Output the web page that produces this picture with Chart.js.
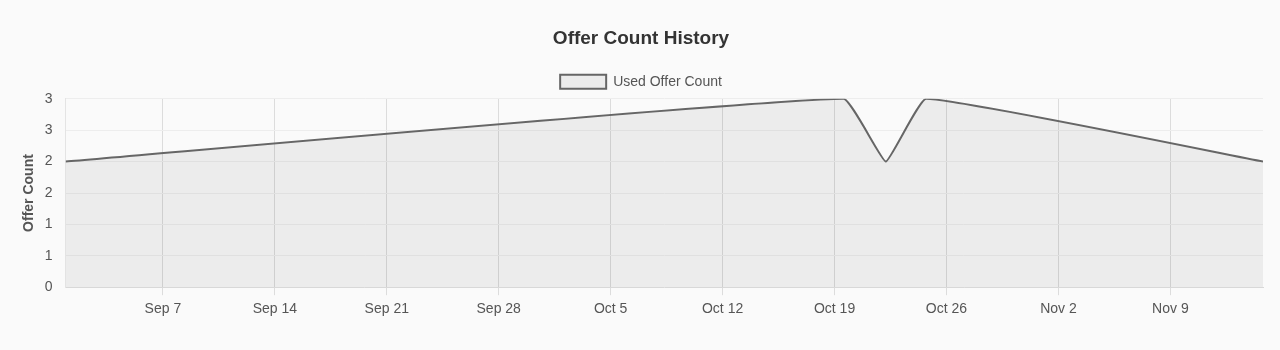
<!DOCTYPE html>
<html>
<head>
<meta charset="utf-8">
<script src="https://cdn.jsdelivr.net/npm/chart.js@4"></script>
<style>
  html, body { margin: 0; padding: 0; background: #fafafa; }
  #wrap { width: 1280px; height: 350px; position: relative; }
</style>
</head>
<body>
<div id="wrap"><canvas id="chart"></canvas></div>
<script>
// data (dates are when the count changed)
const pointDates = ['2020-08-31T22:00:00Z', '2020-10-19T13:30:00Z', '2020-10-22T05:00:00Z', '2020-10-24T17:30:00Z', '2020-11-14T19:00:00Z'];
const usedOfferCount = [2, 3, 2, 3, 2];
const tickDates = ['2020-09-07', '2020-09-14', '2020-09-21', '2020-09-28', '2020-10-05', '2020-10-12', '2020-10-19', '2020-10-26', '2020-11-02', '2020-11-09'];
const monthNames = ['Jan', 'Feb', 'Mar', 'Apr', 'May', 'Jun', 'Jul', 'Aug', 'Sep', 'Oct', 'Nov', 'Dec'];

const DAY = 86400000;
const toDay = s => Date.parse(s.length === 10 ? s + 'T00:00:00Z' : s) / DAY;

const points = pointDates.map((d, i) => ({ x: toDay(d), y: usedOfferCount[i] }));
const tickDays = tickDates.map(toDay);

const fmtDay = v => {
    const d = new Date(Math.round(v * DAY));
    return monthNames[d.getUTCMonth()] + ' ' + d.getUTCDate();
};

Chart.defaults.font.family = '"Liberation Sans", Arial, sans-serif';
Chart.defaults.color = '#555';

new Chart(document.getElementById('chart'), {
    type: 'line',
    data: {
        datasets: [{
            label: 'Used Offer Count',
            data: points,
            borderColor: '#666',
            backgroundColor: 'rgba(0,0,0,0.055)',
            borderWidth: 2,
            fill: true,
            tension: 0.1,
            pointRadius: 0,
            pointHoverRadius: 0
        }]
    },
    options: {
        responsive: true,
        maintainAspectRatio: false,
        animation: false,
        layout: { padding: { top: 17, right: 17, left: 19, bottom: 26 } },
        plugins: {
            title: {
                display: true,
                text: 'Offer Count History',
                color: '#333',
                font: { size: 19, weight: 'bold' },
                padding: { top: 10, bottom: 10 }
            },
            legend: {
                labels: {
                    color: '#555',
                    font: { size: 14 },
                    boxWidth: 46,
                    boxHeight: 14,
                    padding: 15
                }
            },
            tooltip: { enabled: false }
        },
        scales: {
            x: {
                type: 'linear',
                bounds: 'data',
                min: points[0].x,
                max: points[points.length - 1].x,
                afterBuildTicks: axis => {
                    axis.ticks = tickDays.map(v => ({ value: v }));
                },
                ticks: {
                    callback: v => fmtDay(v),
                    font: { size: 14 },
                    color: '#555',
                    maxRotation: 0,
                    padding: 6
                },
                grid: { color: '#dcdcdc', tickLength: 8 },
                border: { color: '#d8d8d8' }
            },
            y: {
                min: 0,
                max: 3,
                ticks: {
                    stepSize: 0.5,
                    callback: v => Math.round(v),
                    font: { size: 14 },
                    color: '#555',
                    padding: 13
                },
                grid: { color: '#ededed', drawTicks: false },
                border: { color: '#e4e4e4' },
                title: {
                    display: true,
                    text: 'Offer Count',
                    color: '#555',
                    font: { size: 14, weight: 'bold' },
                    padding: { top: 2, bottom: -6 }
                }
            }
        }
    }
});
</script>
</body>
</html>
